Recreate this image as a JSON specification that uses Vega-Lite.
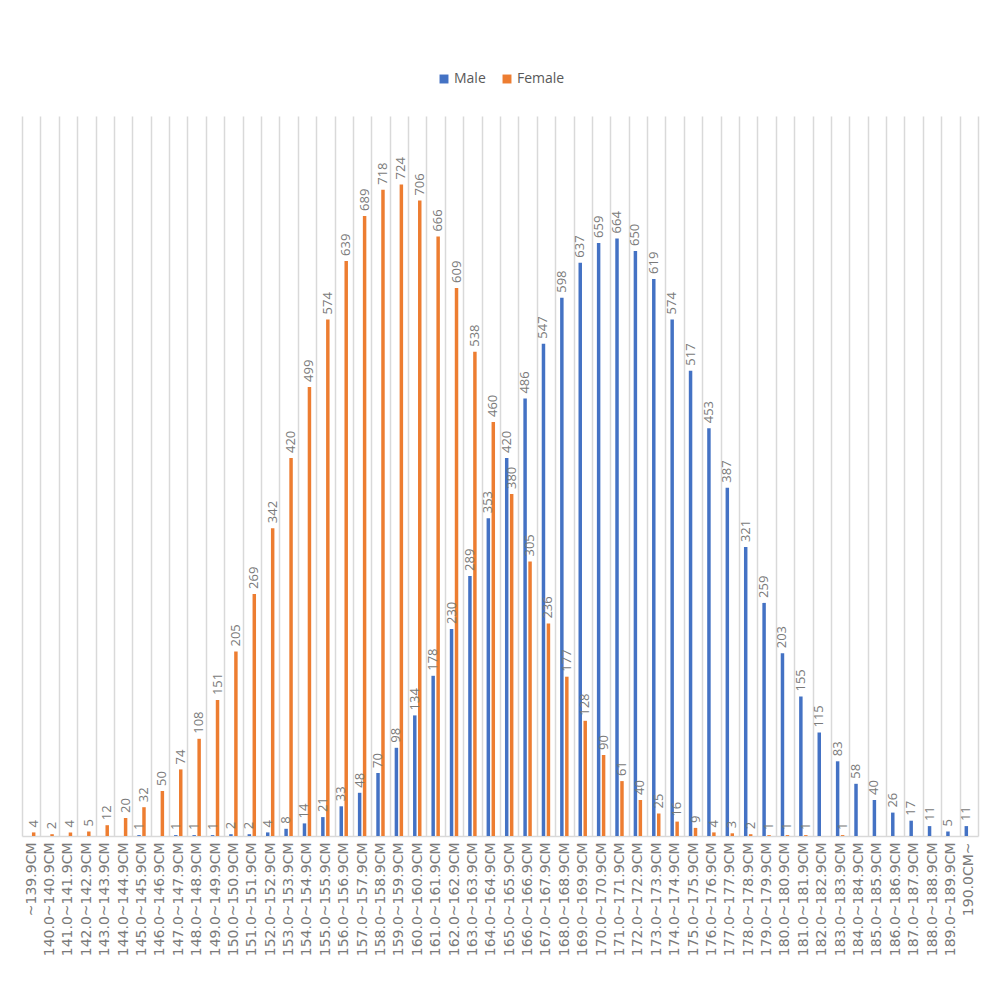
{
  "$schema": "https://vega.github.io/schema/vega-lite/v6.json",
  "autosize": {"type": "none"},
  "width": 956,
  "height": 720,
  "padding": {"left": 22, "top": 116, "right": 21, "bottom": 148},
  "background": "white",
  "config": {
    "view": {"stroke": null},
    "font": "Open Sans"
  },
  "data": {
    "values": [
      {"h": "~139.9CM", "s": "Female", "n": 4},
      {"h": "140.0~140.9CM", "s": "Female", "n": 2},
      {"h": "141.0~141.9CM", "s": "Female", "n": 4},
      {"h": "142.0~142.9CM", "s": "Female", "n": 5},
      {"h": "143.0~143.9CM", "s": "Female", "n": 12},
      {"h": "144.0~144.9CM", "s": "Female", "n": 20},
      {"h": "145.0~145.9CM", "s": "Male", "n": 1},
      {"h": "145.0~145.9CM", "s": "Female", "n": 32},
      {"h": "146.0~146.9CM", "s": "Female", "n": 50},
      {"h": "147.0~147.9CM", "s": "Male", "n": 1},
      {"h": "147.0~147.9CM", "s": "Female", "n": 74},
      {"h": "148.0~148.9CM", "s": "Male", "n": 1},
      {"h": "148.0~148.9CM", "s": "Female", "n": 108},
      {"h": "149.0~149.9CM", "s": "Male", "n": 1},
      {"h": "149.0~149.9CM", "s": "Female", "n": 151},
      {"h": "150.0~150.9CM", "s": "Male", "n": 2},
      {"h": "150.0~150.9CM", "s": "Female", "n": 205},
      {"h": "151.0~151.9CM", "s": "Male", "n": 2},
      {"h": "151.0~151.9CM", "s": "Female", "n": 269},
      {"h": "152.0~152.9CM", "s": "Male", "n": 4},
      {"h": "152.0~152.9CM", "s": "Female", "n": 342},
      {"h": "153.0~153.9CM", "s": "Male", "n": 8},
      {"h": "153.0~153.9CM", "s": "Female", "n": 420},
      {"h": "154.0~154.9CM", "s": "Male", "n": 14},
      {"h": "154.0~154.9CM", "s": "Female", "n": 499},
      {"h": "155.0~155.9CM", "s": "Male", "n": 21},
      {"h": "155.0~155.9CM", "s": "Female", "n": 574},
      {"h": "156.0~156.9CM", "s": "Male", "n": 33},
      {"h": "156.0~156.9CM", "s": "Female", "n": 639},
      {"h": "157.0~157.9CM", "s": "Male", "n": 48},
      {"h": "157.0~157.9CM", "s": "Female", "n": 689},
      {"h": "158.0~158.9CM", "s": "Male", "n": 70},
      {"h": "158.0~158.9CM", "s": "Female", "n": 718},
      {"h": "159.0~159.9CM", "s": "Male", "n": 98},
      {"h": "159.0~159.9CM", "s": "Female", "n": 724},
      {"h": "160.0~160.9CM", "s": "Male", "n": 134},
      {"h": "160.0~160.9CM", "s": "Female", "n": 706},
      {"h": "161.0~161.9CM", "s": "Male", "n": 178},
      {"h": "161.0~161.9CM", "s": "Female", "n": 666},
      {"h": "162.0~162.9CM", "s": "Male", "n": 230},
      {"h": "162.0~162.9CM", "s": "Female", "n": 609},
      {"h": "163.0~163.9CM", "s": "Male", "n": 289},
      {"h": "163.0~163.9CM", "s": "Female", "n": 538},
      {"h": "164.0~164.9CM", "s": "Male", "n": 353},
      {"h": "164.0~164.9CM", "s": "Female", "n": 460},
      {"h": "165.0~165.9CM", "s": "Male", "n": 420},
      {"h": "165.0~165.9CM", "s": "Female", "n": 380},
      {"h": "166.0~166.9CM", "s": "Male", "n": 486},
      {"h": "166.0~166.9CM", "s": "Female", "n": 305},
      {"h": "167.0~167.9CM", "s": "Male", "n": 547},
      {"h": "167.0~167.9CM", "s": "Female", "n": 236},
      {"h": "168.0~168.9CM", "s": "Male", "n": 598},
      {"h": "168.0~168.9CM", "s": "Female", "n": 177},
      {"h": "169.0~169.9CM", "s": "Male", "n": 637},
      {"h": "169.0~169.9CM", "s": "Female", "n": 128},
      {"h": "170.0~170.9CM", "s": "Male", "n": 659},
      {"h": "170.0~170.9CM", "s": "Female", "n": 90},
      {"h": "171.0~171.9CM", "s": "Male", "n": 664},
      {"h": "171.0~171.9CM", "s": "Female", "n": 61},
      {"h": "172.0~172.9CM", "s": "Male", "n": 650},
      {"h": "172.0~172.9CM", "s": "Female", "n": 40},
      {"h": "173.0~173.9CM", "s": "Male", "n": 619},
      {"h": "173.0~173.9CM", "s": "Female", "n": 25},
      {"h": "174.0~174.9CM", "s": "Male", "n": 574},
      {"h": "174.0~174.9CM", "s": "Female", "n": 16},
      {"h": "175.0~175.9CM", "s": "Male", "n": 517},
      {"h": "175.0~175.9CM", "s": "Female", "n": 9},
      {"h": "176.0~176.9CM", "s": "Male", "n": 453},
      {"h": "176.0~176.9CM", "s": "Female", "n": 4},
      {"h": "177.0~177.9CM", "s": "Male", "n": 387},
      {"h": "177.0~177.9CM", "s": "Female", "n": 3},
      {"h": "178.0~178.9CM", "s": "Male", "n": 321},
      {"h": "178.0~178.9CM", "s": "Female", "n": 2},
      {"h": "179.0~179.9CM", "s": "Male", "n": 259},
      {"h": "179.0~179.9CM", "s": "Female", "n": 1},
      {"h": "180.0~180.9CM", "s": "Male", "n": 203},
      {"h": "180.0~180.9CM", "s": "Female", "n": 1},
      {"h": "181.0~181.9CM", "s": "Male", "n": 155},
      {"h": "181.0~181.9CM", "s": "Female", "n": 1},
      {"h": "182.0~182.9CM", "s": "Male", "n": 115},
      {"h": "183.0~183.9CM", "s": "Male", "n": 83},
      {"h": "183.0~183.9CM", "s": "Female", "n": 1},
      {"h": "184.0~184.9CM", "s": "Male", "n": 58},
      {"h": "185.0~185.9CM", "s": "Male", "n": 40},
      {"h": "186.0~186.9CM", "s": "Male", "n": 26},
      {"h": "187.0~187.9CM", "s": "Male", "n": 17},
      {"h": "188.0~188.9CM", "s": "Male", "n": 11},
      {"h": "189.0~189.9CM", "s": "Male", "n": 5},
      {"h": "190.0CM~", "s": "Male", "n": 11}
    ]
  },
  "encoding": {
    "x": {
      "field": "h",
      "type": "nominal",
      "sort": null,
      "scale": {"paddingInner": 0, "paddingOuter": 0},
      "axis": {
        "title": null,
        "labelAngle": -90,
        "labelFontSize": 14,
        "labelFont": "DejaVu Sans",
        "labelColor": "#7a7a7a",
        "labelPadding": 6,
        "ticks": false,
        "tickBand": "extent",
        "grid": true,
        "gridColor": "#d9d9d9",
        "gridWidth": 1.5,
        "domainColor": "#d9d9d9",
        "domainWidth": 1.5
      }
    },
    "xOffset": {
      "field": "s",
      "type": "nominal",
      "scale": {"domain": ["Male", "Female"], "paddingInner": 0.3, "paddingOuter": 1.24}
    },
    "y": {
      "field": "n",
      "type": "quantitative",
      "scale": {"domain": [0, 800], "nice": false},
      "axis": null
    }
  },
  "layer": [
    {
      "mark": {"type": "bar"},
      "encoding": {
        "color": {
          "field": "s",
          "type": "nominal",
          "scale": {"domain": ["Male", "Female"], "range": ["#4472C4", "#ED7D31"]},
          "legend": {
            "title": null,
            "orient": "none",
            "legendX": 415,
            "legendY": -44,
            "direction": "horizontal",
            "symbolType": "square",
            "symbolSize": 80,
            "symbolStrokeWidth": 0,
            "labelFontSize": 14,
            "labelColor": "#595959",
            "labelFont": "Open Sans",
            "labelOffset": 3,
            "columnPadding": 14,
            "symbolOffset": 0
          }
        }
      }
    },
    {
      "mark": {
        "type": "text",
        "angle": -90,
        "align": "left",
        "baseline": "middle",
        "dx": 5,
        "fontSize": 13,
        "font": "Open Sans",
        "color": "#7a7a7a"
      },
      "encoding": {
        "text": {"field": "n", "type": "quantitative"}
      }
    }
  ]
}
